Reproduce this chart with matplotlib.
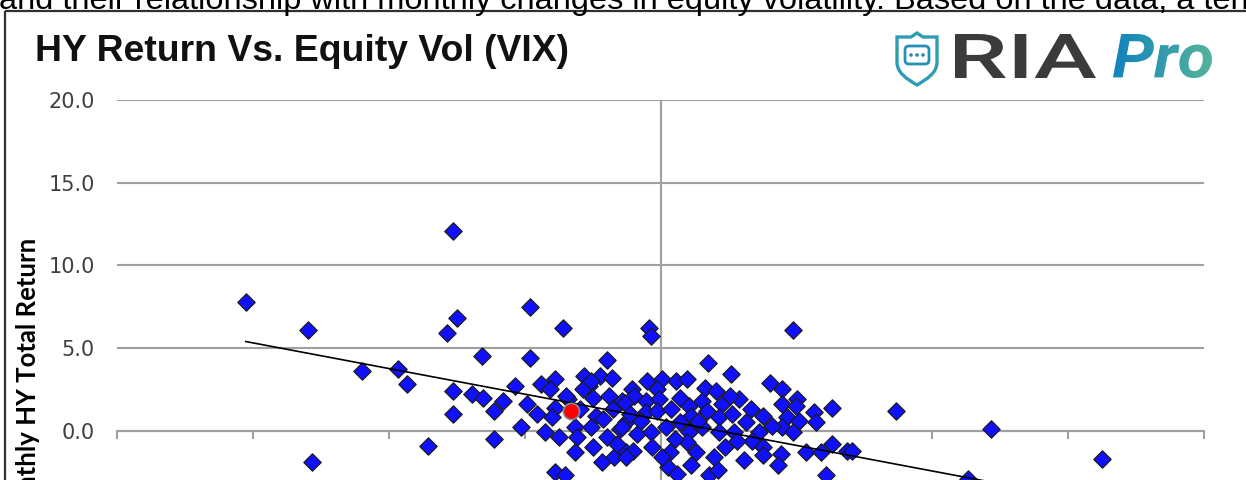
import matplotlib
matplotlib.use("Agg")
import matplotlib.pyplot as plt
from matplotlib.textpath import TextPath
from matplotlib.font_manager import FontProperties
from matplotlib.patches import PathPatch, FancyBboxPatch, Circle
from matplotlib.path import Path
from matplotlib.transforms import Affine2D
from matplotlib.colors import LinearSegmentedColormap
import numpy as np

# monthly % change in the VIX (x) vs monthly HY total return in % (y)
vix_change = [
    -76.3, -64.9, -55.0, -48.3, -46.7, -64.2, -42.8, -38.1, -39.3, -37.5,
    -38.1, -38.2, -32.9, -34.7, -32.7, -30.7, -30.7, -28.9, -26.8, -24.1,
    -24.1, -25.6, -24.6, -18.0, -9.9, -2.2, -1.8, 8.8, 12.9, 24.3,
    43.4, 60.8, 81.3, 56.6,
    -22.8, -21.9, -19.5, -20.4, -14.0, -11.2, -9.0, -13.1, -9.4, -12.5,
    -14.3, -17.1, -19.5, -14.9, -11.8, -8.8, -7.0, -21.3, -18.6, -15.8,
    -15.3, -12.7, -9.9, -7.5, -6.3, -15.8, -12.5, -10.7, -8.5, -19.5,
    -17.6, -6.3, -17.3, -19.9,
    -2.4, 0.2, 2.9, -5.3, -4.8, -0.7, 8.1, 10.3, -6.6, -2.6,
    -0.2, 3.5, 5.3, 7.7, 11.4, 14.5, 16.7, 18.8, -5.7, -2.6,
    -0.6, 2.0, 5.7, 8.5, 10.8, 13.2, 15.8, 18.2, -7.0, -4.4,
    -1.7, 1.1, 3.5, 5.3, 7.7, 10.8, 13.6, 16.9, 18.8, -5.1,
    -1.5, 1.7, 4.8, 6.6, 9.9, 11.8, 15.4, 1.3, 3.1, 5.7,
    9.0, 10.5, 0.2, -6.3,
    20.2, 22.4, 22.4, 25.2, 25.0, 23.3, 25.4, 22.4, 24.3, 28.3,
    28.7, 31.6, 31.6, 26.8, 29.6, 34.4, 35.3, 22.2, 21.7, 30.5,
    18.8,
    4.8, 12.7, -12.7, 6.9, -3.5, 14.0, -8.0, 2.6, 20.5, -10.5,
]
hy_return = [
    7.8, 6.1, 3.6, 3.7, 2.8, -1.9, -0.9, 12.1, 5.9, 6.8,
    2.4, 1.0, 4.5, 2.2, 2.0, 1.2, -0.5, 1.8, 2.7, 7.5,
    4.4, 0.2, 1.6, 6.2, 4.3, 6.2, 5.7, 4.1, 3.4, 6.1,
    1.2, 0.1, -1.7, -2.9,
    1.0, 2.8, 3.1, 2.5, 3.3, 3.3, 3.2, 2.7, 2.1, 2.0,
    2.5, 1.9, 1.4, 1.3, 0.9, 1.3, 1.8, -0.1, -0.4, 0.2,
    -0.4, 0.2, -0.4, 0.1, 0.5, -1.3, -1.0, -1.9, -1.6, -2.5,
    -2.7, -1.3, 2.1, 0.8,
    3.0, 3.1, 3.0, 2.5, 2.1, 2.5, 2.6, 2.4, 1.7, 1.8,
    1.9, 2.0, 1.5, 1.8, 1.6, 1.9, 1.3, 0.9, 1.0, 1.1,
    1.2, 1.3, 0.9, 1.2, 0.8, 1.0, 0.5, -0.1, 0.2, -0.2,
    -0.1, 0.2, 0.5, -0.1, 0.2, -0.1, -0.1, -0.6, -1.0, -1.2,
    -1.0, -1.3, -0.7, -1.3, -1.6, -1.0, -1.8, -2.2, -2.6, -2.1,
    -2.7, -2.4, -1.6, -1.6,
    2.9, 2.5, 1.6, 1.9, 1.5, 0.8, 0.6, 0.2, -0.1, 1.1,
    0.5, 1.4, -0.8, -1.3, -1.3, -1.2, -1.2, -1.4, -2.1, -2.7,
    -1.5,
    3.1, 2.1, 3.0, 0.6, 0.6, -0.6, -0.8, -0.5, 0.3, 0.7,
]

# latest month (red dot)
latest_vix = [-16.5]
latest_hy = [1.2]

# linear trend
trend_x = [-76.3, 81.3]
trend_slope = -0.062
trend_intercept = 0.66

y_ticks = [-10, -5, 0, 5, 10, 15, 20]
x_ticks = [-100, -75, -50, -25, 0, 25, 50, 75, 100]

title = "HY Return Vs. Equity Vol (VIX)"
y_label = "Monthly HY Total Return"
intro_text = ("and their relationship with monthly changes in equity volatility. "
              "Based on the data, a ten")

W, H = 1246, 480
fig = plt.figure(figsize=(W / 100, H / 100), dpi=100)
fig.patch.set_facecolor("white")


def fx(px):
    return px / W


def fy(py):
    return 1 - py / H


grid_col = "#a0a0a0"

# plot area, runs off the bottom of the crop like the screenshot
ax = fig.add_axes([fx(117), fy(596), (1204 - 117) / W, (596 - 100) / H])
ax.set_xlim(-100, 100)
ax.set_ylim(-10, 20)
ax.set_yticks(y_ticks)
ax.set_yticklabels([f"{v:.1f}" for v in y_ticks])
ax.set_xticks(x_ticks)
ax.tick_params(axis="y", length=0, pad=16, labelsize=15, labelcolor="#404040")
ax.tick_params(axis="x", direction="out", length=6, width=1.5, color=grid_col,
               labelbottom=False)
ax.yaxis.grid(True, color=grid_col, lw=1.5)
ax.set_axisbelow(True)
for s in ["top", "right", "left"]:
    ax.spines[s].set_visible(False)
ax.spines["bottom"].set_position(("data", 0))
ax.spines["bottom"].set_color(grid_col)
ax.spines["bottom"].set_linewidth(1.5)
ax.axvline(0, color=grid_col, lw=1.5, zorder=1)

ax.scatter(vix_change, hy_return, marker="D", s=78, c="#1010ff",
           edgecolors="#1a1a1a", linewidths=0.9, zorder=3)
tx = np.array(trend_x)
ax.plot(tx, trend_intercept + trend_slope * tx, color="black", lw=1.2, zorder=4)
ax.scatter(latest_vix, latest_hy, marker="o", s=135, c="#ff0000",
           edgecolors="#7f8c9a", linewidths=1.2, zorder=5)

# overlay in pixel coordinates for frame, titles and logo
ov = fig.add_axes([0, 0, 1, 1], zorder=10)
ov.set_xlim(0, W)
ov.set_ylim(H, 0)
ov.axis("off")
ov.patch.set_alpha(0)

ov.plot([5, 5], [11, H + 5], color="#303030", lw=1.6, solid_capstyle="butt")
ov.plot([5, W + 5], [11, 11], color="#303030", lw=1.6, solid_capstyle="butt")

renderer = fig.canvas.get_renderer()


def fit_width(t, target):
    bb = t.get_window_extent(renderer)
    t.set_fontsize(t.get_fontsize() * target / bb.width)


t_intro = ov.text(-1, 8.5, intro_text, fontsize=20, va="baseline", ha="left",
                  family=["Liberation Sans", "DejaVu Sans"], color="black")
fit_width(t_intro, 1244)

t_title = ov.text(35, 61, title, fontsize=26, va="baseline", ha="left",
                  weight="bold", family=["Liberation Sans", "DejaVu Sans"],
                  color="#111111")
fit_width(t_title, 535)

ov.text(28, 238, y_label, rotation=90, ha="center", va="top", weight="bold",
        family=["Lato", "DejaVu Sans"], fontsize=18.5, color="black")


# logo
def text_patch(text, prop, x0, x1, ytop, ybot, **kw):
    tp = TextPath((0, 0), text, size=100, prop=prop)
    ext = tp.get_extents()
    sx = (x1 - x0) / ext.width
    sy = (ybot - ytop) / ext.height
    tr = Affine2D().translate(-ext.x0, -ext.y0).scale(sx, -sy).translate(x0, ybot)
    patch = PathPatch(tr.transform_path(tp), **kw)
    ov.add_patch(patch)
    return patch


text_patch("RIA", FontProperties(family="Roboto", weight="medium"),
           955, 1096, 34, 78, fc="#3b3b3e", ec="none")
pro = text_patch("Pro", FontProperties(family="Roboto", weight="bold", style="italic"),
                 1113, 1212, 34, 78, fc="none", ec="none")
grad = LinearSegmentedColormap.from_list("ria", ["#1183bd", "#55b39a"])
im = ov.imshow(np.linspace(0, 1, 64).reshape(1, -1), cmap=grad, aspect="auto",
               extent=[1113, 1212, 78, 34], zorder=11)
im.set_clip_path(pro)

shield_col = "#2e9db3"
verts = [(897, 37), (911, 37), (917, 33), (923, 37), (937, 37), (937, 62),
         (937, 73), (927, 79), (917, 85), (907, 79), (897, 73), (897, 62), (897, 37)]
codes = [Path.MOVETO, Path.LINETO, Path.LINETO, Path.LINETO, Path.LINETO, Path.LINETO,
         Path.CURVE4, Path.CURVE4, Path.CURVE4, Path.CURVE4, Path.CURVE4, Path.CURVE4,
         Path.CLOSEPOLY]
ov.add_patch(PathPatch(Path(verts, codes), fc="none", ec=shield_col, lw=2.4, zorder=12))
ov.add_patch(FancyBboxPatch((905, 46), 24, 18, boxstyle="round,pad=0,rounding_size=4",
                            fc="none", ec="#2590b6", lw=2.0, zorder=12))
for cx in (911, 917, 923):
    ov.add_patch(Circle((cx, 55), 1.8, fc="#2188b8", ec="none", zorder=12))

ov.set_xlim(0, W)
ov.set_ylim(H, 0)

fig.savefig("out.png", dpi=100, facecolor="white")
